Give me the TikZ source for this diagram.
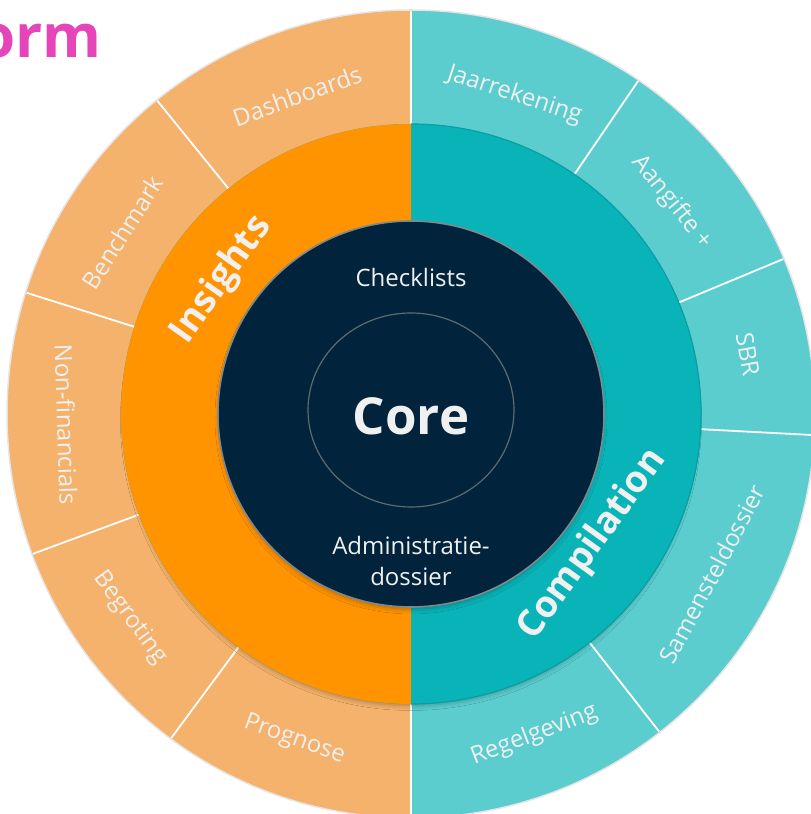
\documentclass[tikz,border=0pt]{standalone}
\usepackage{fontspec}
\setmainfont{Open Sans}
\usetikzlibrary{shadows.blur}
\definecolor{lorange}{HTML}{F4B26C}
\definecolor{morange}{HTML}{FF9300}
\definecolor{lteal}{HTML}{5CCDCF}
\definecolor{mteal}{HTML}{08B4B8}
\definecolor{mtealedge}{HTML}{0A9EA2}
\definecolor{navy}{HTML}{01243C}
\definecolor{magentaT}{HTML}{E545B8}
\definecolor{ltext}{HTML}{F0F0F0}
\definecolor{ringgrey}{HTML}{5C6B70}
\tikzset{
  lbl/.style={text=ltext, font=\fontsize{24}{28}\selectfont, inner sep=0pt},
  ringlbl/.style={text=ltext, font=\fontsize{37}{40}\selectfont\bfseries, inner sep=0pt},
  corelbl/.style={text=ltext, font=\fontsize{24}{31}\selectfont, inner sep=0pt, align=center},
  divider/.style={white, line width=1.8pt},
}
\begin{document}
\begin{tikzpicture}[x=1pt,y=1pt]
\useasboundingbox (0,0) rectangle (811,814);
\clip (0,0) rectangle (811,814);
\coordinate (C) at (411,400);
% title fragment
\node[text=magentaT, font=\fontsize{60}{64}\selectfont\bfseries, inner sep=0pt, anchor=base east] (title) at (102,756) {orm};
% outer ring
\fill[lorange] (C) -- ([shift={(90:404)}]C) arc[start angle=90,end angle=270,radius=404] -- cycle;
\fill[lteal] (C) -- ([shift={(90:404)}]C) arc[start angle=90,end angle=-90,radius=404] -- cycle;
\draw[black!10, line width=1.5pt] (C) circle[radius=404];
\foreach \a in {90,129,162.5,200.3,233.5,270,55.7,22.6,-3,-52}
  \draw[divider] ([shift={(\a:280)}]C) -- ([shift={(\a:403)}]C);
% middle ring
\path[fill=mteal, blur shadow={shadow xshift=0pt, shadow yshift=-6pt, shadow scale=0.985, shadow blur radius=5pt, shadow opacity=30}] (C) circle[radius=290];
\fill[morange] (C) -- ([shift={(90:290)}]C) arc[start angle=90,end angle=270,radius=290] -- cycle;
\draw[mtealedge, line width=1.2pt] ([shift={(90:290)}]C) arc[start angle=90,end angle=-90,radius=290];
% core
\path[fill=navy, draw=ringgrey!80, line width=1.6pt, blur shadow={shadow xshift=0pt, shadow yshift=-4pt, shadow scale=0.99, shadow blur radius=5pt, shadow opacity=30}] (C) circle[radius=193];
\draw[ringgrey, line width=1.2pt] (411,404) ellipse[x radius=103, y radius=97];
% outer labels
\node[lbl, rotate=19.7]  (dash) at ([shift={(109.7:338)}]C) {Dashboards};
\node[lbl, rotate=57.8]  (bench) at ([shift={(147.8:341)}]C) {Benchmark};
\node[lbl, rotate=-88.2] (nonfin) at ([shift={(181.8:345)}]C) {Non-financials};
\node[lbl, rotate=-54]   (begr) at ([shift={(216:347)}]C) {Begroting};
\node[lbl, rotate=-19.7] (progn) at ([shift={(250.3:346)}]C) {Prognose};
\node[lbl, rotate=-18]   (jaar) at ([shift={(72:335)}]C) {Jaarrekening};
\node[lbl, rotate=-51]   (aang) at ([shift={(39:336)}]C) {Aangifte +};
\node[lbl, rotate=-80]   (sbr) at ([shift={(10:342)}]C) {SBR};
\node[lbl, rotate=62]    (samen) at ([shift={(-28:341)}]C) {Samensteldossier};
\node[lbl, rotate=21]    (regel) at ([shift={(-69:344)}]C) {Regelgeving};
% ring labels
\node[ringlbl, rotate=54.7] (insights) at ([shift={(144.7:232)}]C) {Insights};
\node[ringlbl, rotate=54.3] (compil) at ([shift={(-35.7:224)}]C) {Compilation};
% core labels
\node[text=ltext, font=\fontsize{51}{55}\selectfont\bfseries, inner sep=0pt] (core) at (411,398) {Core};
\node[corelbl] (check) at (411,536) {Checklists};
\node[corelbl] (admin) at (411,253) {Administratie-\\dossier};
\end{tikzpicture}
\end{document}
